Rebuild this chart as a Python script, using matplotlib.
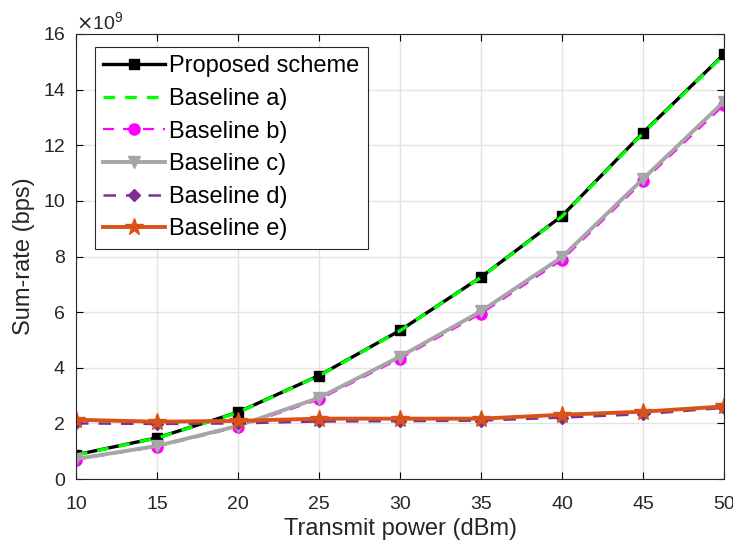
import matplotlib
matplotlib.use("Agg")
import matplotlib.pyplot as plt

plt.rcParams["font.family"] = ["Liberation Sans", "DejaVu Sans"]

power_dbm = [10, 15, 20, 25, 30, 35, 40, 45, 50]
proposed = [0.87, 1.48, 2.40, 3.72, 5.34, 7.26, 9.46, 12.45, 15.27]
baseline_a = [0.86, 1.47, 2.39, 3.71, 5.33, 7.25, 9.44, 12.43, 15.25]
baseline_b = [0.70, 1.16, 1.87, 2.86, 4.33, 5.95, 7.88, 10.70, 13.45]
baseline_c = [0.72, 1.19, 1.91, 2.92, 4.40, 6.03, 7.98, 10.79, 13.57]
baseline_d = [2.00, 1.98, 2.00, 2.07, 2.08, 2.10, 2.21, 2.33, 2.56]
baseline_e = [2.13, 2.06, 2.09, 2.17, 2.17, 2.17, 2.31, 2.42, 2.61]

scale = 1e9
y_ticks = [0, 2, 4, 6, 8, 10, 12, 14, 16]

W, H = 733, 548
fig = plt.figure(figsize=(W / 100, H / 100), dpi=100)
# axes box in pixels: x 76..724, y 34..479
ax = fig.add_axes([76 / W, 1 - 479 / H, (724 - 76) / W, (479 - 34) / H])

def sc(v):
    return [x * scale for x in v]

ax.plot(power_dbm, sc(proposed), color="black", lw=2.4, marker="s", ms=7,
        label="Proposed scheme")
ax.plot(power_dbm, sc(baseline_a), color="#00FF00", lw=2.4, ls=(0, (3.5, 3)),
        label="Baseline a)")
ax.plot(power_dbm, sc(baseline_b), color="#FF00FF", lw=1.6, ls=(0, (5, 4)),
        marker="o", ms=8, label="Baseline b)")
ax.plot(power_dbm, sc(baseline_c), color="#A6A6A6", lw=2.8, marker="v", ms=9,
        label="Baseline c)")
ax.plot(power_dbm, sc(baseline_d), color="#7E2F8E", lw=1.8, ls=(0, (5, 4)),
        marker="D", ms=6.5, label="Baseline d)")
ax.plot(power_dbm, sc(baseline_e), color="#D95319", lw=2.8, marker="*", ms=13,
        label="Baseline e)")

ax.set_xlim(10, 50)
ax.set_ylim(0, 16 * scale)
ax.set_xticks(power_dbm)
ax.set_yticks([t * scale for t in y_ticks])
ax.set_yticklabels([str(t) for t in y_ticks])
ax.tick_params(direction="in", labelsize=14, top=True, right=True, length=5,
               labelcolor="#262626")
ax.tick_params(axis="x", pad=12)
ax.tick_params(axis="y", pad=8)
ax.grid(True, color="#E3E3E3", lw=1.0)
ax.set_axisbelow(True)
for s in ax.spines.values():
    s.set_linewidth(0.8)
    s.set_color("#262626")

ax.text(0.0, 1.003, r"$\times\mathregular{10^9}$", transform=ax.transAxes,
        fontsize=14, ha="left", va="bottom", color="#262626")

ax.set_xlabel("Transmit power (dBm)", fontsize=17, color="#262626", labelpad=4)
ax.set_ylabel("Sum-rate (bps)", fontsize=17, color="#262626", labelpad=6)

leg = ax.legend(loc="upper left", bbox_to_anchor=(95 / W, 1 - 47 / H),
                bbox_transform=fig.transFigure, fontsize=17, handlelength=2.6,
                borderaxespad=0, borderpad=0.35, labelspacing=0.45,
                handletextpad=0.2, fancybox=False, edgecolor="#262626",
                framealpha=1)
leg.get_frame().set_linewidth(0.8)

fig.savefig("out.png", dpi=100)
